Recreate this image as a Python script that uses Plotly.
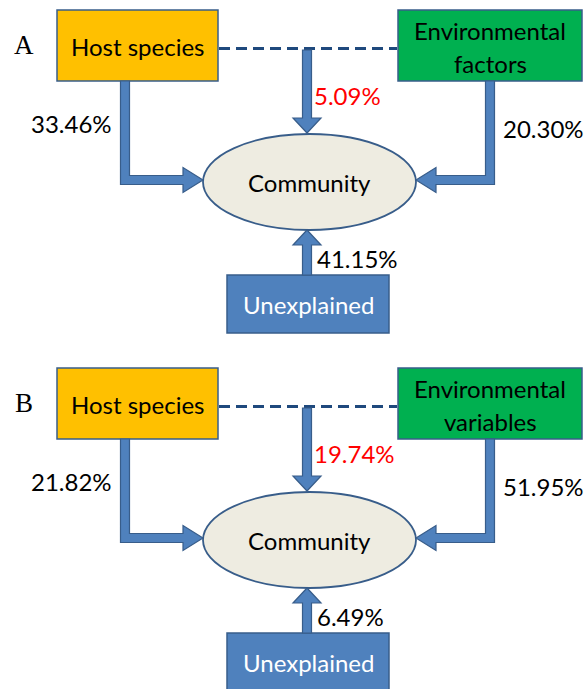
import plotly.graph_objects as go

# ---- data ----
panels = ["A", "B"]
host_labels = ["Host species", "Host species"]
env_labels = [["Environmental", "factors"], ["Environmental", "variables"]]
host_pct = ["33.46%", "21.82%"]
env_pct = ["20.30%", "51.95%"]
shared_pct = ["5.09%", "19.74%"]
unexplained_pct = ["41.15%", "6.49%"]
center_label = "Community"
unexplained_label = "Unexplained"

# ---- style ----
W, H = 584, 689
ORANGE = "#FFC000"
GREEN = "#00B050"
BLUE = "#4F81BD"
BLUE_EDGE = "#385D8A"
DASH = "#1F497D"
ELL = "#EEECE1"
FONT = "Lato"
FS = 24

fig = go.Figure()
fig.add_trace(go.Scatter(x=[0, W], y=[0, H], mode="markers",
                         marker=dict(opacity=0), hoverinfo="skip", showlegend=False))

shapes = []
annos = []


def poly(pts):
    return "M " + " L ".join(f"{x},{y}" for x, y in pts) + " Z"


for i, p in enumerate(panels):
    dy = 358 * i
    # boxes
    shapes.append(dict(type="rect", x0=57, x1=218, y0=10 + dy, y1=81 + dy,
                       fillcolor=ORANGE, line=dict(color=BLUE_EDGE, width=1.5)))
    shapes.append(dict(type="rect", x0=398, x1=582, y0=10 + dy, y1=81 + dy,
                       fillcolor=GREEN, line=dict(color=BLUE_EDGE, width=1.5)))
    shapes.append(dict(type="rect", x0=227, x1=389, y0=275 + dy, y1=333 + dy,
                       fillcolor=BLUE, line=dict(color=BLUE_EDGE, width=1.5)))
    # ellipse
    shapes.append(dict(type="circle", x0=203, x1=416, y0=134 + dy, y1=230 + dy,
                       fillcolor=ELL, line=dict(color=BLUE_EDGE, width=1.8)))
    # dashed line
    shapes.append(dict(type="line", x0=219, x1=397, y0=48.5 + dy, y1=48.5 + dy,
                       line=dict(color=DASH, width=3, dash="11px,6px")))
    w = 4.5
    h = 12.5
    # host arrow (down then right)
    cx, yc, y0, xb, xt = 125, 180 + dy, 81 + dy, 183, 203
    shapes.append(dict(type="path", path=poly([
        (cx - w, y0), (cx - w, yc + w), (xb, yc + w), (xb, yc + h), (xt, yc),
        (xb, yc - h), (xb, yc - w), (cx + w, yc - w), (cx + w, y0)]),
        fillcolor=BLUE, line=dict(color=BLUE_EDGE, width=1.2)))
    # env arrow (down then left)
    cx, xb, xt = 490, 436, 416
    shapes.append(dict(type="path", path=poly([
        (cx + w, y0), (cx + w, yc + w), (xb, yc + w), (xb, yc + h), (xt, yc),
        (xb, yc - h), (xb, yc - w), (cx - w, yc - w), (cx - w, y0)]),
        fillcolor=BLUE, line=dict(color=BLUE_EDGE, width=1.2)))
    # shared arrow (down)
    cx, ys, yb, yt = 307, 50 + dy, 118 + dy, 133 + dy
    hw = 14
    shapes.append(dict(type="path", path=poly([
        (cx - w, ys), (cx - w, yb), (cx - hw, yb), (cx, yt), (cx + hw, yb),
        (cx + w, yb), (cx + w, ys)]),
        fillcolor=BLUE, line=dict(color=BLUE_EDGE, width=1.2)))
    # unexplained arrow (up)
    ys, yb, yt = 275 + dy, 245 + dy, 230 + dy
    shapes.append(dict(type="path", path=poly([
        (cx - w, ys), (cx - w, yb), (cx - hw, yb), (cx, yt), (cx + hw, yb),
        (cx + w, yb), (cx + w, ys)]),
        fillcolor=BLUE, line=dict(color=BLUE_EDGE, width=1.2)))

    def txt(x, y, t, color="black", xanchor="center", size=FS, family=FONT):
        annos.append(dict(x=x, y=y, text=t, showarrow=False, xanchor=xanchor,
                          yanchor="middle", font=dict(family=family, size=size, color=color)))

    txt(24, 45 + dy, p, size=27, family="Liberation Serif")
    txt(137.5, 46 + dy, host_labels[i])
    txt(490, 30 + dy, env_labels[i][0])
    txt(490, 63 + dy, env_labels[i][1])
    txt(309, 182 + dy, center_label)
    txt(308, 304 + dy, unexplained_label, color="white")
    txt(114, 123 + dy, host_pct[i], xanchor="right")
    txt(501, 128 + dy, env_pct[i], xanchor="left")
    txt(312, 95 + dy, shared_pct[i], color="red", xanchor="left")
    txt(315, 258 + dy, unexplained_pct[i], xanchor="left")

fig.update_layout(
    width=W, height=H, margin=dict(l=0, r=0, t=0, b=0),
    paper_bgcolor="white", plot_bgcolor="white",
    xaxis=dict(range=[0, W], visible=False, fixedrange=True),
    yaxis=dict(range=[H, 0], visible=False, fixedrange=True),
    shapes=shapes, annotations=annos, showlegend=False,
)
fig.write_html("out.html", config={"displayModeBar": False},
               post_script="document.body.style.margin='0';document.body.style.overflow='hidden';")
